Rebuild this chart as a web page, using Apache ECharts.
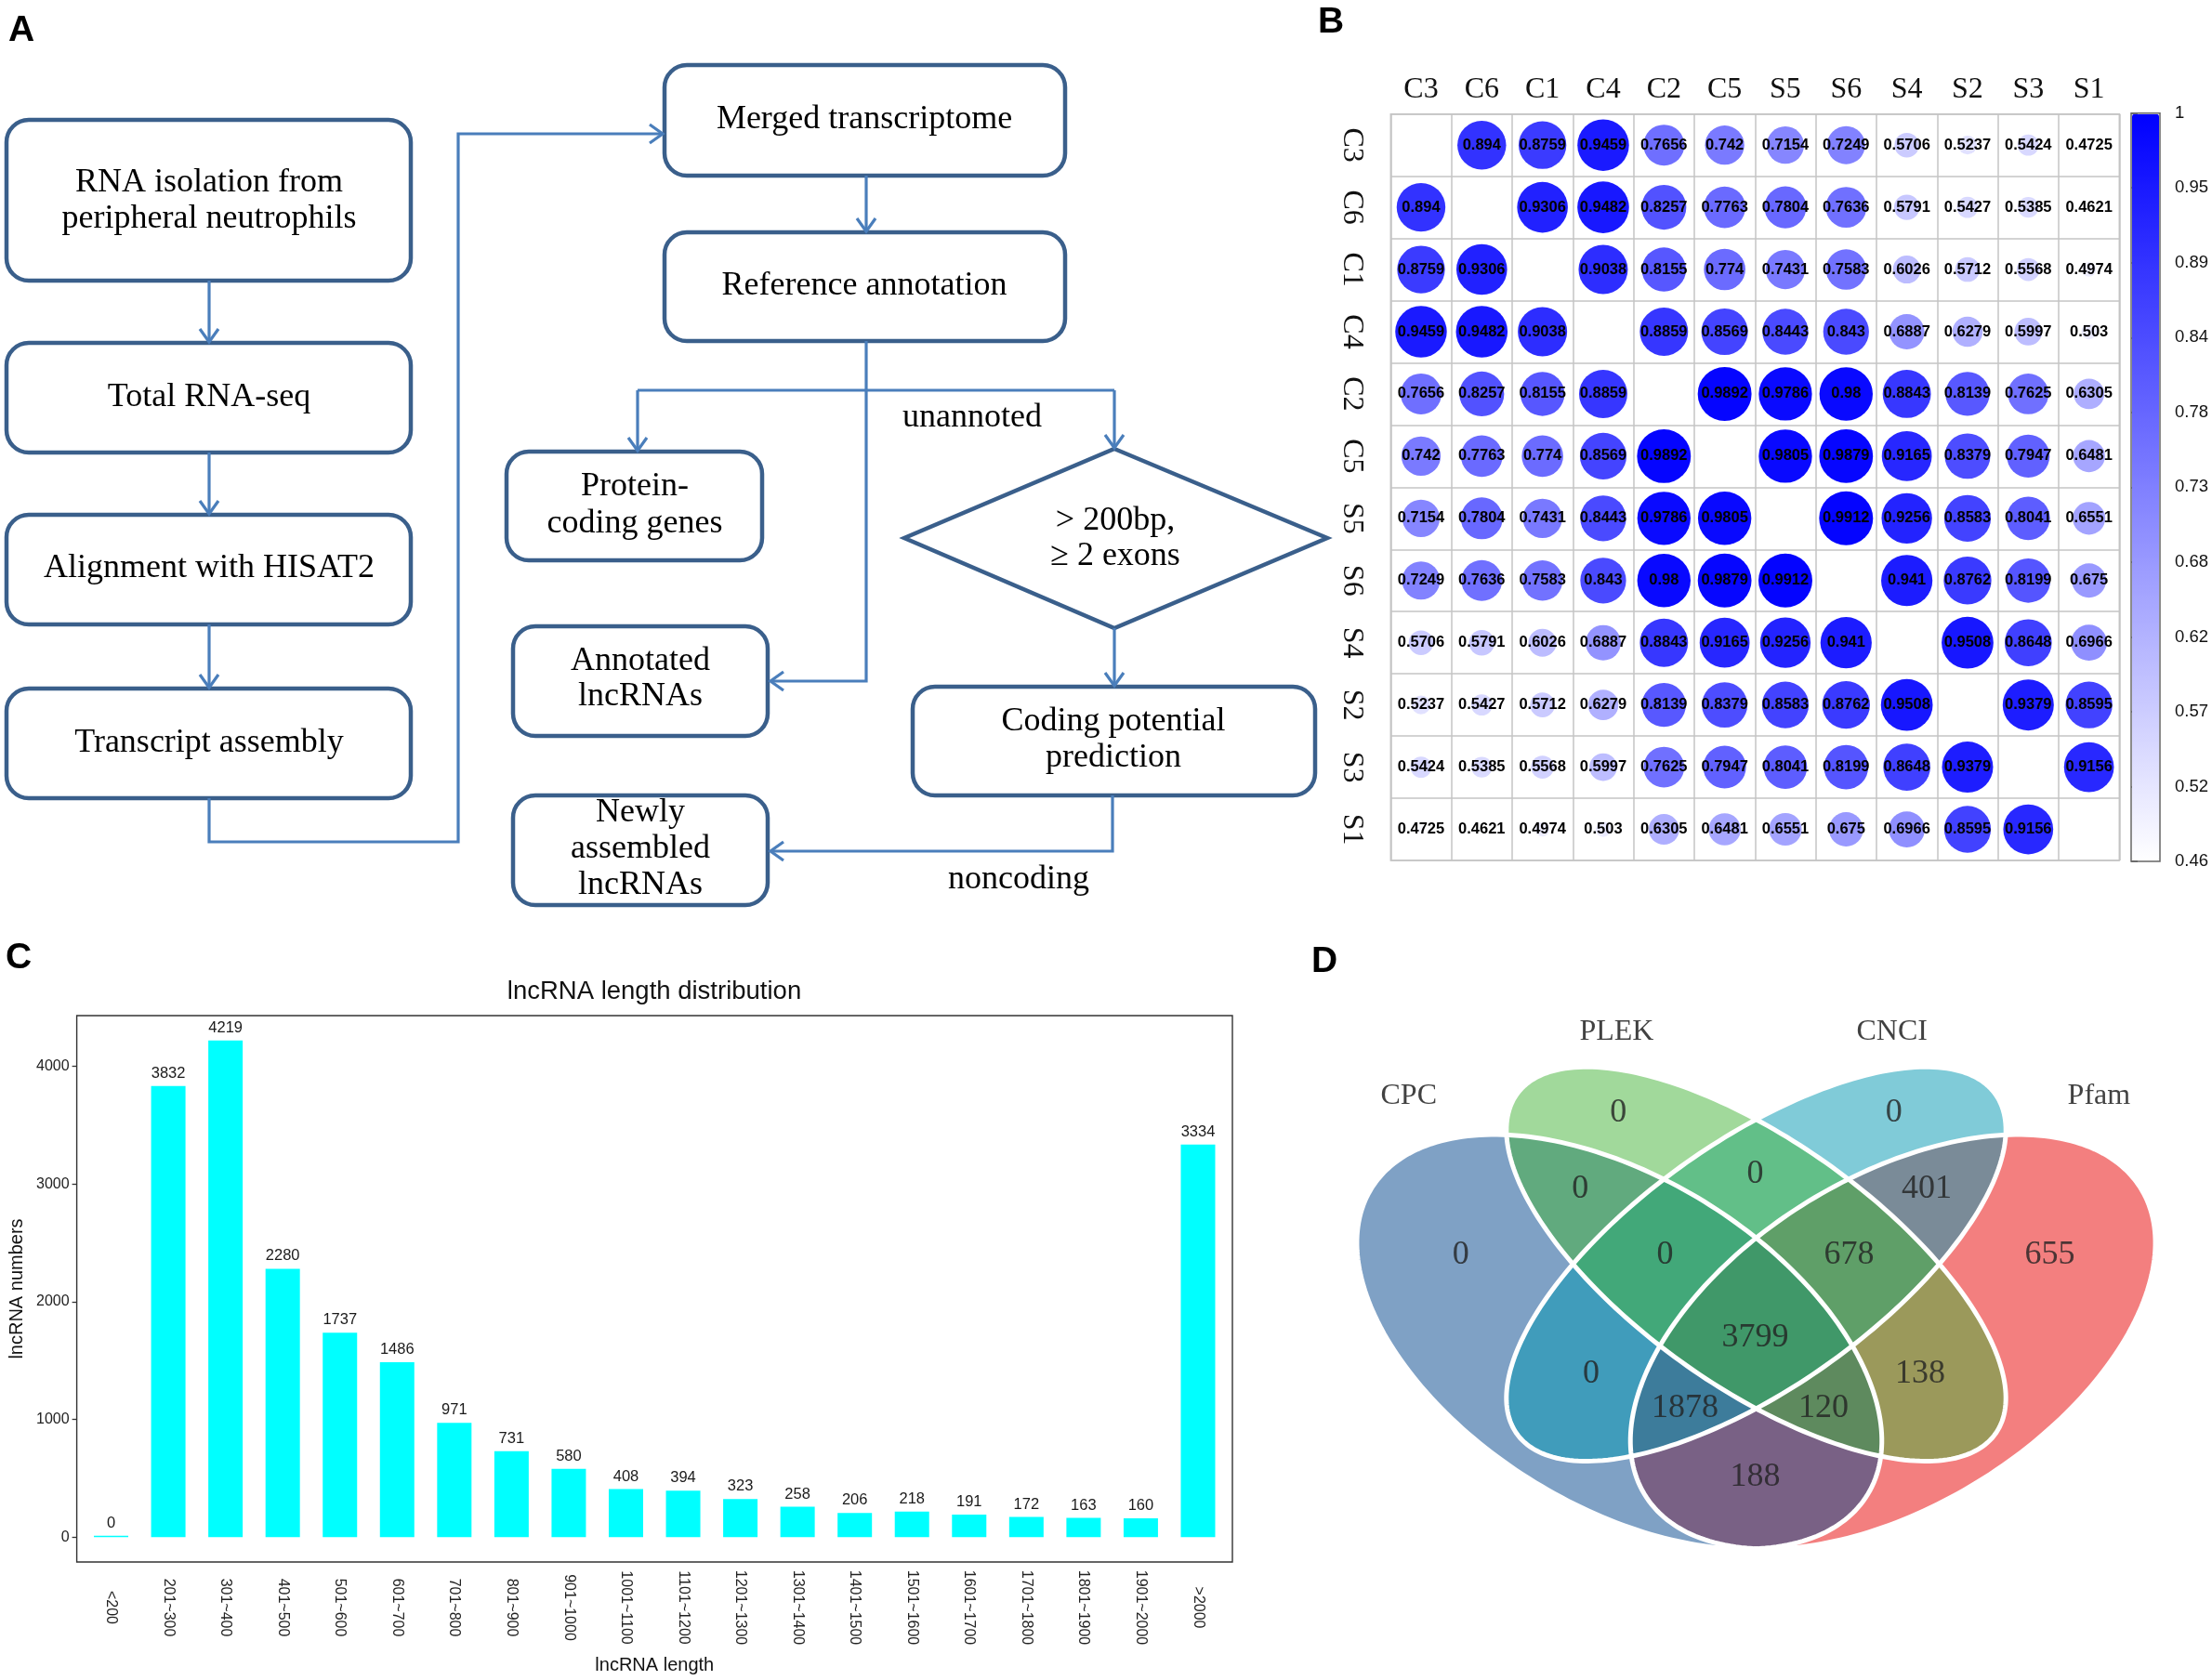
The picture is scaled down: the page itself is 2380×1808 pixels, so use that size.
<!DOCTYPE html>
<html><head><meta charset="utf-8">
<script src="https://cdn.jsdelivr.net/npm/echarts@6/dist/echarts.min.js"></script>
<style>html,body{margin:0;padding:0;background:#fff}#c{width:2380px;height:1808px}</style>
</head><body><div id="c"></div>
<script>
// ---------- Panel B data ----------
const corrLabels = ['C3','C6','C1','C4','C2','C5','S5','S6','S4','S2','S3','S1'];
const corrMatrix = [
[null,0.894,0.8759,0.9459,0.7656,0.742,0.7154,0.7249,0.5706,0.5237,0.5424,0.4725],
[0.894,null,0.9306,0.9482,0.8257,0.7763,0.7804,0.7636,0.5791,0.5427,0.5385,0.4621],
[0.8759,0.9306,null,0.9038,0.8155,0.774,0.7431,0.7583,0.6026,0.5712,0.5568,0.4974],
[0.9459,0.9482,0.9038,null,0.8859,0.8569,0.8443,0.843,0.6887,0.6279,0.5997,0.503],
[0.7656,0.8257,0.8155,0.8859,null,0.9892,0.9786,0.98,0.8843,0.8139,0.7625,0.6305],
[0.742,0.7763,0.774,0.8569,0.9892,null,0.9805,0.9879,0.9165,0.8379,0.7947,0.6481],
[0.7154,0.7804,0.7431,0.8443,0.9786,0.9805,null,0.9912,0.9256,0.8583,0.8041,0.6551],
[0.7249,0.7636,0.7583,0.843,0.98,0.9879,0.9912,null,0.941,0.8762,0.8199,0.675],
[0.5706,0.5791,0.6026,0.6887,0.8843,0.9165,0.9256,0.941,null,0.9508,0.8648,0.6966],
[0.5237,0.5427,0.5712,0.6279,0.8139,0.8379,0.8583,0.8762,0.9508,null,0.9379,0.8595],
[0.5424,0.5385,0.5568,0.5997,0.7625,0.7947,0.8041,0.8199,0.8648,0.9379,null,0.9156],
[0.4725,0.4621,0.4974,0.503,0.6305,0.6481,0.6551,0.675,0.6966,0.8595,0.9156,null]
];
const colorMin = 0.46, colorMax = 1;
const colorTickLabels = ['0.46','0.52','0.57','0.62','0.68','0.73','0.78','0.84','0.89','0.95','1'];

// ---------- Panel C data ----------
const lengthCategories = ['<200','201~300','301~400','401~500','501~600','601~700','701~800','801~900','901~1000','1001~1100','1101~1200','1201~1300','1301~1400','1401~1500','1501~1600','1601~1700','1701~1800','1801~1900','1901~2000','>2000'];
const lengthCounts = [0,3832,4219,2280,1737,1486,971,731,580,408,394,323,258,206,218,191,172,163,160,3334];
const countTicks = [0,1000,2000,3000,4000];

// ---------- Panel D data ----------
const vennSets = ['CPC','PLEK','CNCI','Pfam'];
const vennRegions = ['CPC','PLEK','CNCI','Pfam','CPC&PLEK','PLEK&CNCI','CNCI&Pfam','CPC&PLEK&CNCI','PLEK&CNCI&Pfam','CPC&PLEK&CNCI&Pfam','CPC&CNCI','PLEK&Pfam','CPC&CNCI&Pfam','CPC&PLEK&Pfam','CPC&Pfam'];
const vennCounts = [0,0,0,655,0,0,401,0,678,3799,0,138,1878,120,188];

// ---------- layout (not data) ----------
const vennEllipses = {CPC:[0.35,0.47,0.35,0.208,135], PLEK:[0.5,0.578,0.355,0.155,135], CNCI:[0.5,0.578,0.355,0.155,45], Pfam:[0.65,0.47,0.35,0.208,45]};
const vennColors = {CPC:'rgb(0,67,140)', PLEK:'rgb(67,179,55)', CNCI:'rgb(2,151,177)', Pfam:'rgb(232,0,0)'};
const vennDrawOrder = ['Pfam','CPC','CNCI','PLEK'];
const vennRegionPos = [[0.176,0.590],[0.349,0.788],[0.651,0.788],[0.822,0.590],[0.307,0.682],[0.499,0.703],[0.687,0.682],[0.400,0.590],[0.602,0.590],[0.499,0.476],[0.319,0.425],[0.680,0.425],[0.422,0.378],[0.574,0.378],[0.499,0.2815]];
const vennSetLabelPos = [[0.119,0.811],[0.347,0.901],[0.649,0.901],[0.876,0.811]];

const SERIF = '"Liberation Serif","Times New Roman",serif';
const SANS = '"Liberation Sans",Arial,sans-serif';

// ---------- Panel A flowchart graphics ----------
const boxStroke = '#3a5f8b', lineCol = '#4a7ebb';
const g = [];
function box(x,y,w,h){ g.push({type:'rect', shape:{x:x,y:y,width:w,height:h,r:24}, style:{fill:'#fff', stroke:boxStroke, lineWidth:4.5}}); }
function txt(t,x,y,size,font,weight){ g.push({type:'text', style:{text:t, x:x, y:y, textAlign:'center', textVerticalAlign:'middle', align:'center', verticalAlign:'middle', font:(weight||'normal')+' '+size+'px '+(font||SERIF), fill:'#000'}}); }
function line(pts){ g.push({type:'polyline', shape:{points:pts}, style:{stroke:lineCol, lineWidth:3.2, fill:null}}); }
function arrowDown(x,y){ line([[x-10,y-14],[x,y],[x+10,y-14]]); }
function arrowLeft(x,y){ line([[x+14,y-10],[x,y],[x+14,y+10]]); }
function arrowRight(x,y){ line([[x-14,y-10],[x,y],[x-14,y+10]]); }

box(7,129,435,173); box(7,369,435,118); box(7,554,435,118); box(7,741,435,118);
box(715,70,431,119); box(715,250,431,117);
box(545,486,275,117); box(552,674,274,118); box(552,856,274,118); box(982,739,433,117);
g.push({type:'polygon', shape:{points:[[1199,483],[1428,579],[1199,676],[973,579]]}, style:{fill:'#fff', stroke:boxStroke, lineWidth:4.5}});

line([[225,302],[225,367]]); arrowDown(225,368);
line([[225,487],[225,552]]); arrowDown(225,553);
line([[225,672],[225,739]]); arrowDown(225,740);
line([[225,859],[225,906],[493,906],[493,144],[713,144]]); arrowRight(713,144);
line([[932,189],[932,248]]); arrowDown(932,249);
line([[932,367],[932,420]]);
line([[686,420],[1199,420]]);
line([[686,420],[686,484]]); arrowDown(686,485);
line([[1199,420],[1199,481]]); arrowDown(1199,482);
line([[932,420],[932,733],[829,733]]); arrowLeft(829,733);
line([[1199,676],[1199,737]]); arrowDown(1199,738);
line([[1197,856],[1197,916],[829,916]]); arrowLeft(829,916);

txt('RNA isolation from',225,197,36); txt('peripheral neutrophils',225,236,36);
txt('Total RNA-seq',225,428,36);
txt('Alignment with HISAT2',225,612,36);
txt('Transcript assembly',225,800,36);
txt('Merged transcriptome',930,129,36);
txt('Reference annotation',930,308,36);
txt('Protein-',683,524,36); txt('coding genes',683,564,36);
txt('Annotated',689,712,36); txt('lncRNAs',689,750,36);
txt('Newly',689,875,36); txt('assembled',689,914,36); txt('lncRNAs',689,953,36);
txt('Coding potential',1198,777,36); txt('prediction',1198,816,36);
txt('> 200bp,',1200,561,36); txt('\u2265 2 exons',1200,599,36);
txt('unannoted',1046,450,36);
txt('noncoding',1096,947,36);

txt('A',23,33,39,SANS,'bold');
txt('B',1432,24,39,SANS,'bold');
txt('C',20,1031,39,SANS,'bold');
txt('D',1425,1035,39,SANS,'bold');

// ---------- Series data build ----------
const corrData = [];
for (let r=0;r<corrLabels.length;r++) for (let c=0;c<corrLabels.length;c++) {
  if (r!==c && corrMatrix[r][c]!=null) corrData.push([c,r,corrMatrix[r][c]]);
}
const ellipseData = vennDrawOrder.map(n => ({name:n, value:vennEllipses[n], itemStyle:{color:vennColors[n]}}));
const regionData = vennRegions.map((n,i) => ({name:n, value:[vennRegionPos[i][0], vennRegionPos[i][1], vennCounts[i]]}));
const setLabelData = vennSets.map((n,i) => ({name:n, value:[vennSetLabelPos[i][0], vennSetLabelPos[i][1]]}));

function ellipsePoints(api){
  const cx=api.value(0), cy=api.value(1), a=api.value(2), b=api.value(3), rot=api.value(4)*Math.PI/180;
  const pts=[];
  for (let i=0;i<240;i++){
    const t=i/240*2*Math.PI;
    const x=cx+a*Math.cos(t)*Math.cos(rot)-b*Math.sin(t)*Math.sin(rot);
    const y=cy+a*Math.cos(t)*Math.sin(rot)+b*Math.sin(t)*Math.cos(rot);
    pts.push(api.coord([x,y]));
  }
  return pts;
}

const heatGrid = {left:1496.3, top:122.7, width:784, height:803.3};
const option = {
  animation:false,
  backgroundColor:'#fff',
  title:[{text:'lncRNA length distribution', left:704, top:1053, textAlign:'center', padding:0,
    textStyle:{fontSize:27.5, fontWeight:'normal', fontFamily:SANS, color:'#111'}}],
  graphic:g,
  grid:[
    Object.assign({show:true, borderColor:'#c4c4c4', borderWidth:1.5, backgroundColor:'transparent'}, heatGrid),
    {left:2293, top:121.7, width:31, height:805.3, show:true, borderColor:'#666', borderWidth:1.5, backgroundColor:'transparent', z:10},
    {left:88.76, top:1093, width:1231, height:588},
    {left:82.6, top:1093, width:1243.4, height:588, show:true, borderColor:'#333', borderWidth:1.4, backgroundColor:'transparent'},
    {left:1399, top:1033.5, width:1002, height:776}
  ],
  visualMap:{type:'continuous', seriesIndex:0, dimension:2, min:colorMin, max:colorMax, calculable:false,
    orient:'vertical', left:2294, top:122.7, itemWidth:29, itemHeight:803.3, padding:0, hoverLink:false,
    inRange:{color:['#ffffff','#0000ff']}},
  xAxis:[
    {type:'category', gridIndex:0, position:'top', data:corrLabels, axisLine:{show:false}, axisTick:{show:false},
      splitLine:{show:true, interval:0, lineStyle:{color:'#c4c4c4', width:1.5}},
      axisLabel:{interval:0, margin:25.7, verticalAlign:'middle', fontSize:32, fontFamily:SERIF, color:'#111'}},
    {type:'value', gridIndex:1, show:false},
    {type:'category', gridIndex:2, data:lengthCategories, axisLine:{show:false, onZero:false},
      axisTick:{alignWithLabel:true, length:6, interval:0, lineStyle:{color:'#333', width:1.3}},
      axisLabel:{interval:0, rotate:-90, align:'center', verticalAlign:'middle', margin:49, fontSize:16, fontFamily:SANS, color:'#222'},
      name:'lncRNA length', nameLocation:'middle', nameGap:111, nameTextStyle:{fontSize:20, fontFamily:SANS, color:'#111', verticalAlign:'middle'}},
    {type:'value', gridIndex:3, show:false},
    {type:'value', gridIndex:4, min:0, max:1, show:false}
  ],
  yAxis:[
    {type:'category', gridIndex:0, inverse:true, data:corrLabels, axisLine:{show:false}, axisTick:{show:false},
      splitLine:{show:true, interval:0, lineStyle:{color:'#c4c4c4', width:1.5}},
      axisLabel:{interval:0, rotate:-90, align:'center', verticalAlign:'middle', margin:42, fontSize:32, fontFamily:SERIF, color:'#111'}},
    {type:'value', gridIndex:1, position:'right', min:0, max:colorTickLabels.length-1, interval:1,
      axisLine:{show:false}, splitLine:{show:false},
      axisTick:{show:true, length:7, lineStyle:{color:'#555', width:1.5}},
      axisLabel:{margin:16, fontSize:18.5, fontFamily:SANS, color:'#111', formatter:v => colorTickLabels[Math.round(v)]}},
    {type:'value', gridIndex:2, min:-211, max:4430, offset:6.16, axisLine:{show:false}, splitLine:{show:false},
      axisTick:{show:true, length:5, customValues:countTicks, lineStyle:{color:'#333', width:1.3}},
      axisLabel:{customValues:countTicks, margin:8, fontSize:16, fontFamily:SANS, color:'#222', formatter:v => String(v)},
      name:'lncRNA numbers', nameLocation:'middle', nameGap:61.6, nameTextStyle:{fontSize:20, fontFamily:SANS, color:'#111', verticalAlign:'middle'}},
    {type:'value', gridIndex:3, show:false},
    {type:'value', gridIndex:4, min:0, max:1, show:false}
  ],
  series:[
    {type:'scatter', xAxisIndex:0, yAxisIndex:0, data:corrData,
      symbolSize:v => 58.5*Math.sqrt(Math.max(0,(v[2]-colorMin)/(colorMax-colorMin))),
      itemStyle:{opacity:1}, emphasis:{disabled:true},
      label:{show:true, position:'inside', formatter:p => String(p.value[2]), fontWeight:'bold', fontSize:16.5, fontFamily:SANS, color:'#000'}},
    {type:'bar', xAxisIndex:2, yAxisIndex:2, data:lengthCounts, barWidth:37, barMinHeight:1.5,
      itemStyle:{color:'#00ffff'}, emphasis:{disabled:true},
      label:{show:true, position:'top', distance:5, fontSize:16.5, fontFamily:SANS, color:'#1a1a1a'}},
    {type:'custom', xAxisIndex:4, yAxisIndex:4, data:ellipseData, clip:false, silent:true,
      renderItem:(params, api) => ({type:'polygon', shape:{points:ellipsePoints(api)}, style:{fill:api.visual('color'), opacity:0.5}})},
    {type:'custom', xAxisIndex:4, yAxisIndex:4, data:ellipseData, clip:false, silent:true, z:3,
      renderItem:(params, api) => ({type:'polygon', shape:{points:ellipsePoints(api)}, style:{fill:'none', stroke:'#ffffff', lineWidth:5}})},
    {type:'scatter', xAxisIndex:4, yAxisIndex:4, data:regionData, symbolSize:0, z:5, silent:true,
      label:{show:true, position:'inside', formatter:p => String(p.value[2]), fontSize:36, fontFamily:SERIF, color:'#222'}},
    {type:'scatter', xAxisIndex:4, yAxisIndex:4, data:setLabelData, symbolSize:0, z:5, silent:true,
      label:{show:true, position:'inside', formatter:p => p.name, fontSize:32, fontFamily:SERIF, color:'#111'}}
  ]
};
const chart = echarts.init(document.getElementById('c'), null, {renderer:'canvas'});
chart.setOption(option);
</script></body></html>
